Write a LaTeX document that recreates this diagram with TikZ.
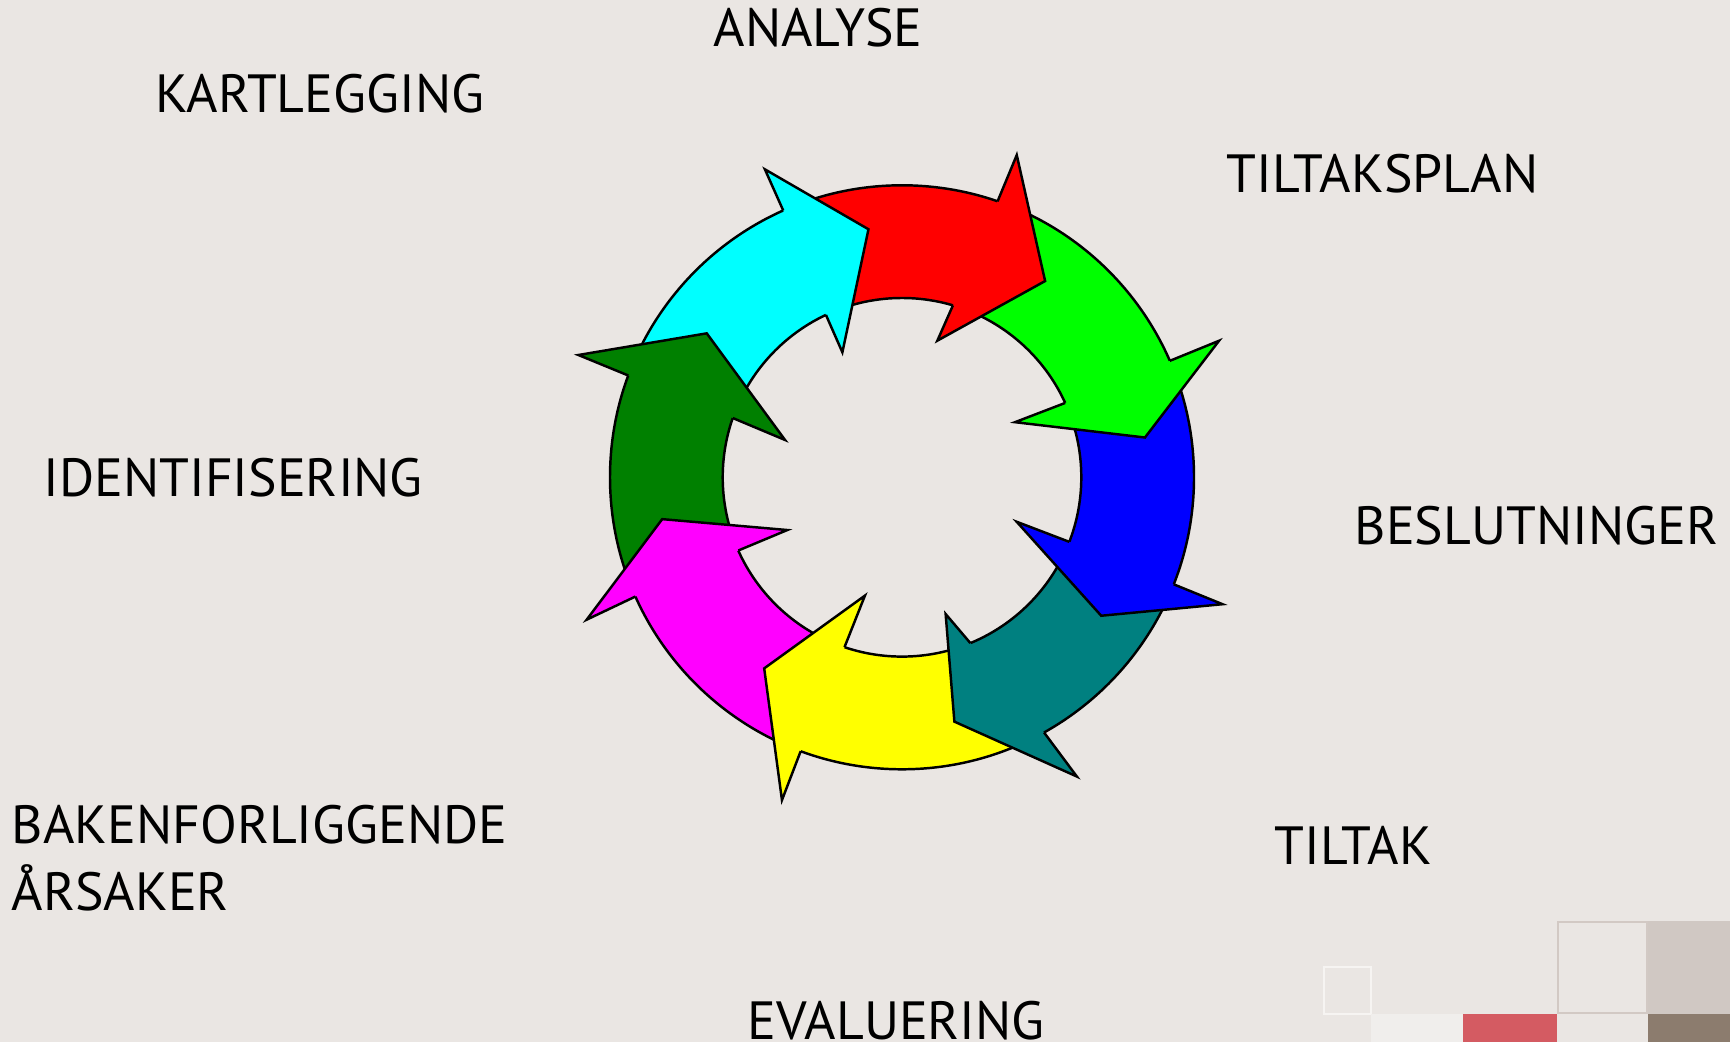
\documentclass[tikz,border=0pt]{standalone}
\usepackage{fontspec}
\setmainfont{PT Sans}
\usepackage{tikz}
\usetikzlibrary{calc}
\definecolor{slidebg}{HTML}{EAE6E3}
\definecolor{arrred}{RGB}{255,0,0}
\definecolor{arrgreen}{RGB}{0,255,0}
\definecolor{arrblue}{RGB}{0,0,255}
\definecolor{arrteal}{RGB}{0,128,128}
\definecolor{arryellow}{RGB}{255,255,0}
\definecolor{arrmagenta}{RGB}{255,0,255}
\definecolor{arrdkgreen}{RGB}{0,128,0}
\definecolor{arrcyan}{RGB}{0,255,255}
\definecolor{tilered}{HTML}{D45B62}
\definecolor{tilegrey}{HTML}{D0C8C3}
\definecolor{tileline}{HTML}{D2C9C4}
\definecolor{tilelight}{HTML}{F0EEEC}
\definecolor{tilewhite}{HTML}{F6F4F2}
\definecolor{tilephoto}{HTML}{8C7C6E}

\begin{document}
\begin{tikzpicture}[x=0.01cm, y=0.01cm,
    steplabel/.style={anchor=base west, inner sep=0pt, font=\fontsize{15.3}{18.2}\selectfont},
    rim/.style={draw=black, line width=0.7pt}]
    \useasboundingbox[fill=slidebg] (0,0) rectangle (1730,1042);
    \coordinate (C) at (902,564.7);
    % corner tiles
    \draw[tilewhite, line width=0.7pt] (1324,28) rectangle (1371,75);
    \fill[tilelight] (1371,0) rectangle (1463,28);
    \fill[tilered] (1463,0) rectangle (1557,28);
    \draw[tileline, line width=0.8pt] (1558,29) rectangle (1647,120);
    \fill[tilegrey] (1648,28) rectangle (1730,121);
    \fill[tilephoto] (1648,0) rectangle (1730,28);
    % arrow bodies (shifted 2 degrees forward, the heads cover the seams)
    \foreach \pa/\pb/\so/\si/\col in {114/115.1/70.9/73.5/arrred, 70.9/73.5/23.5/24.5/arrgreen,
        23.5/24.5/-21.5/-21.1/arrblue, -21.5/-21.1/-60.9/-67.6/arrteal,
        -60.9/-67.6/-110.3/-108.7/arryellow, -110.3/-108.7/-155.9/-155.9/arrmagenta,
        -155.9/-155.9/-200.4/-199.3/arrdkgreen, -200.4/-199.3/-246/-244.9/arrcyan}
        \fill[\col] ($(C)+(\pa-2:292)$) arc[start angle=\pa-2, end angle=\so-2, radius=292]
            -- ($(C)+(\si-2:179.3)$) arc[start angle=\si-2, end angle=\pb-2, radius=179.3] -- cycle;
    \draw[rim] (C) circle[radius=292];
    \draw[rim] (C) circle[radius=179.3];
    % arrow heads
    \foreach \so/\si/\oba/\obr/\tpa/\tpr/\iba/\ibr/\col in {
        70.9/73.5/70.4/342.1/53.9/242.9/75.5/141.1/arrred,
        23.5/24.5/23.3/345.2/9.3/246.2/26/125.7/arrgreen,
        -21.5/-21.1/-21.6/344.8/-34.8/242.6/-21.2/123/arrblue,
        -60.9/-67.6/-59.7/346.6/-77.9/249.9/-72.3/143.5/arrteal,
        -110.3/-108.7/-110.4/344.4/-125.8/235.6/-107.4/124/arryellow,
        -155.9/-155.9/-155.7/346/-170.1/243.4/-155.3/126.2/arrmagenta,
        159.6/160.7/159.3/346/143.6/242.6/162.3/122.8/arrdkgreen,
        114/115.1/114/337.1/97.7/250.3/115.5/138.5/arrcyan}
        \filldraw[fill=\col, rim] ($(C)+(\so:292)$) -- ($(C)+(\oba:\obr)$) -- ($(C)+(\tpa:\tpr)$)
            -- ($(C)+(\iba:\ibr)$) -- ($(C)+(\si:179.3)$);
    % labels
    \node[steplabel] (analyse) at (713,995.3) {ANALYSE};
    \node[steplabel] (kartlegging) at (155,929.5) {KARTLEGGING};
    \node[steplabel] (tiltaksplan) at (1226,849) {TILTAKSPLAN};
    \node[steplabel] (identifisering) at (43,545.5) {IDENTIFISERING};
    \node[steplabel] (beslutninger) at (1354,497) {BESLUTNINGER};
    \node[steplabel, align=left] (bakenforliggende) at (11,131.3) {BAKENFORLIGGENDE\\[0.8pt]ÅRSAKER};
    \node[steplabel] (tiltak) at (1274,178) {TILTAK};
    \node[steplabel] (evaluering) at (747,3) {EVALUERING};
\end{tikzpicture}
\end{document}
